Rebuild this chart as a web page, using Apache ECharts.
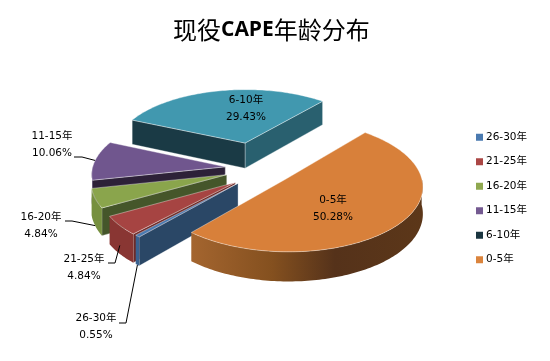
<!DOCTYPE html>
<html><head><meta charset="utf-8">
<style>html,body{margin:0;padding:0;background:#fff}#c{width:550px;height:361px}</style>
<script src="https://cdn.jsdelivr.net/npm/echarts@6/dist/echarts.min.js"></script>
</head><body><div id="c"></div>
<script>
const categories = ['26-30年','21-25年','16-20年','11-15年','6-10年','0-5年'];
const shares = [0.55,4.84,4.84,10.06,29.43,50.28];

// Styling and layout, kept apart from the data
const legendColors = ['#4a7ab0','#ab4745','#8fa84f','#745a91','#1a3540','#db843d'];
const topColors = ['#4a7ab0','#a64442','#8aa54c','#70568e','#4198af','#d8803a'];
const arcColors = ['#3a6290','#893633','#76903f','#4a3a60','#2a6473',null];
const startFaceColors = ['#2a4766','#6d2a28','#45562a','#2d2138','#1a3a45','#7a4820'];
const endFaceColors = ['#2a4766','#6d2a28','#45562a','#2d2138','#29606f','#7a4820'];
const paintOrder = [4,3,2,1,0,5]; // back to front, as indexes into categories
const labelCenters = [[96,318],[84,259],[41,217],[52,136],[246,100],[333,200]];
const leaderStarts = [[[119,323],[126,323]],[[108,263],[115,263]],[[65,221],[72,221]],[[74,157],[82,157]],null,null];
const leaderDepth = [1,0.7,1,0,0,0];
const sliceNudge = [[5,0],[6,2],[2,0],[2,2],[-3,-4],[6,-2]];
const FONT = '10.5px "DejaVu Sans","Noto Sans CJK SC",sans-serif';
const geo = {cx:255,cy:167,R:133,tilt:0.47,persp:0.1,explodeX:32,explodeY:45,depth:26,firstAngle:221};

function project(p, z, nudge){
  const s = 1/(1-geo.persp*p[1]/geo.R);
  return [geo.cx+nudge[0]+p[0]*s, geo.cy+nudge[1]+p[1]*geo.tilt*s-z*s];
}
function renderSlice(params, api){
  const i = params.seriesIndex;
  const nudge = sliceNudge[i];
  const value = api.value(0), before = api.value(1);
  const a0 = (geo.firstAngle+before*3.6)*Math.PI/180;
  const a1 = (geo.firstAngle+(before+value)*3.6)*Math.PI/180;
  const mid = (a0+a1)/2;
  const ox = geo.explodeX*Math.sin(mid), oy = -geo.explodeY*Math.cos(mid);
  const ground = (a,r)=>[ox+r*Math.sin(a), oy-r*Math.cos(a)];
  const apexG = ground(0,0);
  const n = Math.max(3,Math.ceil((a1-a0)/0.02));
  const topArc=[], wallTop=[], wallBot=[];
  for(let k=0;k<=n;k++){
    const a = a0+(a1-a0)*k/n;
    const g = ground(a, geo.R);
    const t = project(g,0,nudge);
    topArc.push(t);
    if(Math.cos(a)<0.02){ wallTop.push(t); wallBot.push(project(g,-geo.depth,nudge)); }
  }
  const apexT = project(apexG,0,nudge), apexB = project(apexG,-geo.depth,nudge);
  const poly = (pts,fill,extra)=>({type:'polygon',shape:{points:pts},style:Object.assign({fill:fill,stroke:fill,lineWidth:0.5},extra||{}),silent:true});
  const faceStroke = {stroke:'rgba(255,255,255,0.45)',lineWidth:0.7};
  const children = [];
  // Only the cut faces that turn towards the viewer are drawn
  if(-Math.cos(a1+Math.PI/2)>0){
    const g = ground(a1,geo.R);
    children.push(poly([apexT,topArc[n],project(g,-geo.depth,nudge),apexB],endFaceColors[i],faceStroke));
  }
  if(-Math.cos(a0-Math.PI/2)>0){
    const g = ground(a0,geo.R);
    children.push(poly([apexT,topArc[0],project(g,-geo.depth,nudge),apexB],startFaceColors[i],faceStroke));
  }
  if(wallTop.length>1){
    let arcFill = arcColors[i];
    if(!arcFill){
      arcFill = new echarts.graphic.LinearGradient(0,0,1,0,[
        {offset:0,color:'#a4652f'},{offset:0.35,color:'#84501f'},{offset:0.62,color:'#55321a'},{offset:1,color:'#5c3719'}
      ]);
    }
    children.push(poly(wallTop.concat(wallBot.slice().reverse()),arcFill,{stroke:null,lineWidth:0}));
  }
  children.push(poly([apexT].concat(topArc),topColors[i],{stroke:'rgba(255,255,255,0.55)',lineWidth:0.7}));
  if(leaderStarts[i]){
    const anchor = project(ground(mid,geo.R),-geo.depth*leaderDepth[i],nudge);
    children.push({type:'polyline',shape:{points:leaderStarts[i].concat([anchor])},style:{stroke:'#000',lineWidth:1,fill:null},silent:true});
  }
  const c = labelCenters[i];
  const pct = value.toFixed(2)+'%';
  children.push({type:'text',silent:true,style:{text:categories[i],x:c[0],y:c[1],align:'center',verticalAlign:'middle',font:FONT,fill:'#000'}});
  children.push({type:'text',silent:true,style:{text:pct,x:c[0],y:c[1]+17,align:'center',verticalAlign:'middle',font:FONT,fill:'#000'}});
  return {type:'group',children:children};
}
let running = 0;
const series = categories.map((name,i)=>{
  const s = {type:'custom',name:name,coordinateSystem:'none',silent:true,animation:false,
    z:2+paintOrder.indexOf(i),itemStyle:{color:legendColors[i]},
    data:[[shares[i],running]],renderItem:renderSlice};
  running += shares[i];
  return s;
});
const chart = echarts.init(document.getElementById('c'),null,{renderer:'canvas'});
chart.setOption({
  backgroundColor:'#fff',animation:false,
  title:{text:'{a|现役}{b|CAPE}{a|年龄分布}',left:168,top:13,textStyle:{rich:{
    a:{fontFamily:'"Noto Sans CJK SC",sans-serif',fontSize:24,fontWeight:'normal',color:'#000'},
    b:{fontFamily:'"Open Sans",sans-serif',fontSize:21,fontWeight:'bold',color:'#000'}}}},
  legend:{data:categories,orient:'vertical',left:476,top:132,padding:0,icon:'rect',itemWidth:7,itemHeight:7,itemGap:14,selectedMode:false,
    textStyle:{fontFamily:'"DejaVu Sans","Noto Sans CJK SC",sans-serif',fontSize:10.5,color:'#000',padding:[0,0,0,-2]}},
  series:series
});
</script></body></html>
